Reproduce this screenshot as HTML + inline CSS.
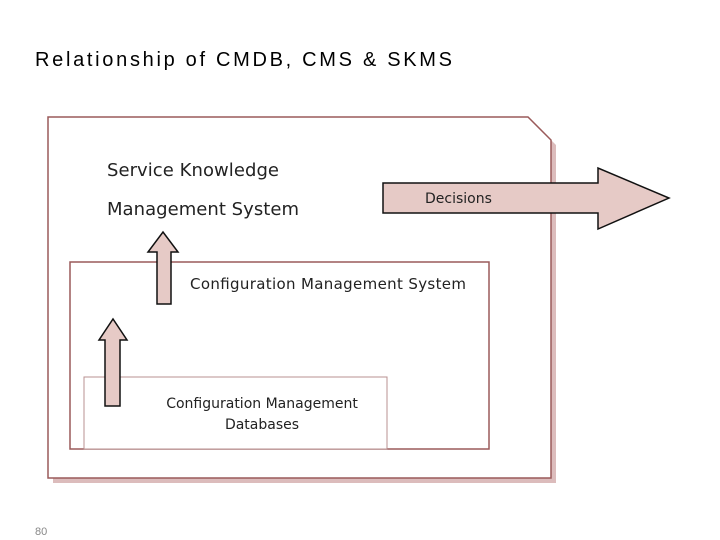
<!DOCTYPE html>
<html><head><style>
body{margin:0;background:#fff;width:720px;height:540px;overflow:hidden;font-family:"Liberation Sans",sans-serif}
</style></head><body>
<svg width="720" height="540" xmlns="http://www.w3.org/2000/svg" style="position:absolute;left:0;top:0">
<text x="35" y="66" font-family="Liberation Sans, sans-serif" font-size="20" fill="#000" textLength="417" lengthAdjust="spacing">Relationship of CMDB, CMS &amp; SKMS</text>
<polygon points="53,122 533,122 556,145 556,483 53,483" fill="#dcbcbc"/>
<polygon points="48,117 528,117 551,140 551,478 48,478" fill="#fff" stroke="#9a5a5a" stroke-width="1.5"/>
<text x="107" y="176" font-family="DejaVu Sans, sans-serif" font-size="18" fill="#222" textLength="172">Service Knowledge</text>
<text x="107" y="215" font-family="DejaVu Sans, sans-serif" font-size="18" fill="#222" textLength="192">Management System</text>
<polygon points="383,183 598,183 598,168 669,198 598,229 598,213 383,213" fill="#e6cac6" stroke="#111" stroke-width="1.5"/>
<text x="425" y="203" font-family="DejaVu Sans, sans-serif" font-size="14" fill="#222">Decisions</text>
<rect x="70" y="262" width="419" height="187" fill="#fff" stroke="#9a5a5a" stroke-width="1.5"/>
<text x="190" y="289" font-family="DejaVu Sans, sans-serif" font-size="15" fill="#222" textLength="276">Configuration Management System</text>
<rect x="84" y="377" width="303" height="72" fill="#fff" stroke="#b89090" stroke-width="1"/>
<text x="262" y="408" text-anchor="middle" font-family="DejaVu Sans, sans-serif" font-size="14" fill="#222">Configuration Management</text>
<text x="262" y="429" text-anchor="middle" font-family="DejaVu Sans, sans-serif" font-size="14" fill="#222">Databases</text>
<polygon points="157,304 157,252 148,252 163,232 178,252 171,252 171,304" fill="#e6cac6" stroke="#111" stroke-width="1.5"/>
<polygon points="105,406 105,340 99,340 113,319 127,340 120,340 120,406" fill="#e6cac6" stroke="#111" stroke-width="1.5"/>
<text x="35" y="535" font-family="Liberation Sans, sans-serif" font-size="11" fill="#888">80</text>
</svg>
</body></html>
